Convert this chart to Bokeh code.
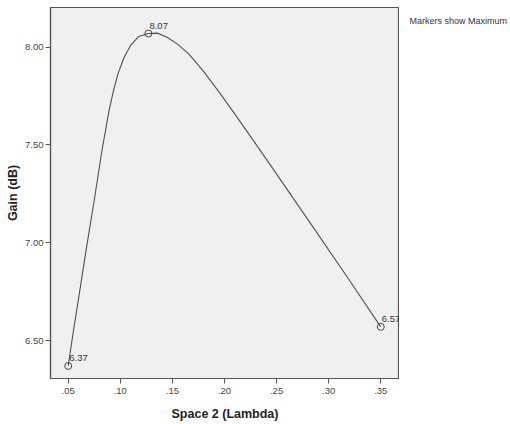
from bokeh.plotting import figure
from bokeh.layouts import row
from bokeh.models import Range1d, FixedTicker, ColumnDataSource
from bokeh.core.properties import value
from bokeh.embed import file_html
from bokeh.resources import INLINE

# Marker data (maximum gain per spacing)
space = [0.05, 0.127, 0.35]
gain = [6.37, 8.07, 6.57]
gain_labels = ["6.37", "8.07", "6.57"]

# Interpolation curve
curve_x = [0.05, 0.0546, 0.0595, 0.0671, 0.0748, 0.0824, 0.0858, 0.0892, 0.0935,
           0.0978, 0.1036, 0.1098, 0.1178, 0.127, 0.1354, 0.1450, 0.1546,
           0.1657, 0.1801, 0.1961, 0.2122, 0.2281, 0.2441, 0.2857,
           0.3178, 0.35]
curve_y = [6.37, 6.536, 6.700, 6.960, 7.211, 7.472, 7.574, 7.676, 7.779,
           7.865, 7.947, 8.009, 8.055, 8.07, 8.072, 8.051, 8.017,
           7.966, 7.875, 7.761, 7.641, 7.520, 7.397, 7.075,
           6.825, 6.57]

x_ticks = [0.05, 0.10, 0.15, 0.20, 0.25, 0.30, 0.35]
x_tick_labels = [".05", ".10", ".15", ".20", ".25", ".30", ".35"]
y_ticks = [6.5, 7.0, 7.5, 8.0]
y_tick_labels = ["6.50", "7.00", "7.50", "8.00"]
note_text = ["Markers show Maximum"]

FONT = "Liberation Sans"
LINE = "#555555"

p = figure(width=399, height=424, output_backend="svg", toolbar_location=None,
           x_range=Range1d(0.033, 0.368), y_range=Range1d(6.306, 8.203),
           min_border_left=50, min_border_right=0, min_border_top=7,
           min_border_bottom=46)
p.background_fill_color = "#f0f0f0"
p.border_fill_color = "white"
p.outline_line_color = LINE
p.outline_line_width = 1.2
p.xgrid.visible = False
p.ygrid.visible = False

p.line(curve_x, curve_y, line_color="#505050", line_width=1.1)
src = ColumnDataSource(dict(x=space, y=gain, t=gain_labels))
p.scatter("x", "y", source=src, marker="circle", size=7, fill_color=None,
          line_color="#444444", line_width=1)
p.text("x", "y", text="t", source=src, x_offset=1, y_offset=-5,
       text_align="left", text_baseline="bottom", text_font=value(FONT),
       text_font_size="9.5px", text_color="#333333")

for ax, ticks, labels in ((p.xaxis[0], x_ticks, x_tick_labels),
                          (p.yaxis[0], y_ticks, y_tick_labels)):
    ax.ticker = FixedTicker(ticks=ticks)
    ax.major_label_overrides = {t: l for t, l in zip(ticks, labels)}
    ax.minor_tick_line_color = None
    ax.major_tick_in = 0
    ax.major_tick_out = 5
    ax.major_tick_line_color = LINE
    ax.axis_line_color = LINE
    ax.axis_line_width = 1.2
    ax.major_label_text_font = FONT
    ax.major_label_text_font_size = "9.5px"
    ax.major_label_text_color = "#444444"
    ax.axis_label_text_font = FONT
    ax.axis_label_text_font_size = "12.5px"
    ax.axis_label_text_font_style = "bold"
    ax.axis_label_text_color = "#222222"

p.xaxis.axis_label = "Space 2 (Lambda)"
p.xaxis.major_label_standoff = 4
p.xaxis.axis_label_standoff = 10
p.yaxis.axis_label = "Gain (dB)"
p.yaxis.major_label_standoff = 2
p.yaxis.axis_label_standoff = 2

# Side panel holding the note to the right of the chart
side = figure(width=111, height=424, output_backend="svg", toolbar_location=None,
              x_range=Range1d(0, 111), y_range=Range1d(0, 424),
              min_border=0, x_axis_type=None, y_axis_type=None)
side.outline_line_color = None
side.background_fill_color = "white"
side.border_fill_color = "white"
side.xgrid.visible = False
side.ygrid.visible = False
side.text(x=[10], y=[409], text=note_text, text_font=value(FONT),
          text_font_size="9px", text_color="#333333", text_baseline="middle",
          text_align="left")

layout = row(p, side, spacing=0)
open("out.html", "w").write(file_html(layout, INLINE))
